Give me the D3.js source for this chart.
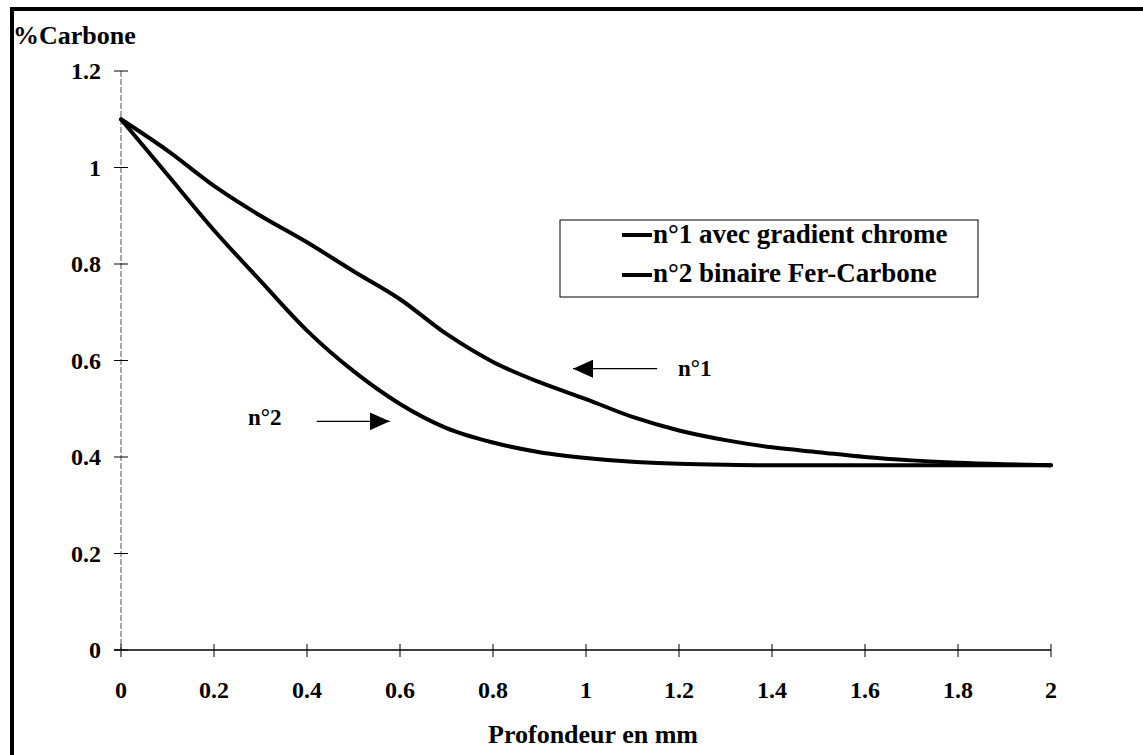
<!DOCTYPE html>
<html>
<head>
<meta charset="utf-8">
<script src="https://cdn.jsdelivr.net/npm/d3@7"></script>
<style>
  body { margin: 0; background: #fff; }
</style>
</head>
<body>
<svg id="chart" width="1143" height="755"></svg>
<script>
// Data
const depth = [0, 0.1, 0.2, 0.3, 0.4, 0.5, 0.6, 0.7, 0.8, 0.9, 1.0, 1.1, 1.2, 1.3, 1.4, 1.5, 1.6, 1.7, 1.8, 1.9, 2.0];
const serie1 = [1.1, 1.035, 0.962, 0.9, 0.845, 0.785, 0.727, 0.655, 0.597, 0.555, 0.52, 0.483, 0.455, 0.435, 0.42, 0.41, 0.4, 0.393, 0.388, 0.385, 0.383];
const serie2 = [1.1, 0.985, 0.87, 0.765, 0.662, 0.578, 0.51, 0.46, 0.43, 0.41, 0.398, 0.39, 0.386, 0.384, 0.383, 0.383, 0.383, 0.383, 0.383, 0.383, 0.383];
const legendLabels = ["n°1 avec gradient chrome", "n°2 binaire Fer-Carbone"];
const xTicks = [0, 0.2, 0.4, 0.6, 0.8, 1, 1.2, 1.4, 1.6, 1.8, 2];
const yTicks = [0, 0.2, 0.4, 0.6, 0.8, 1, 1.2];

const FONT = "'Liberation Serif', 'Times New Roman', 'DejaVu Serif', serif";

const svg = d3.select("#chart")
    .style("font-family", FONT)
    .style("font-weight", "bold");

// scales
const x = d3.scaleLinear().domain([0, 2]).range([121, 1051]);
const y = d3.scaleLinear().domain([0, 1.2]).range([650, 71]);

// outer frame (only top and left visible)
svg.append("path")
    .attr("d", "M12,755 L12,9 L1143,9")
    .attr("fill", "none")
    .attr("stroke", "#000")
    .attr("stroke-width", 4);

// y axis
svg.append("line")
    .attr("x1", x(0)).attr("x2", x(0))
    .attr("y1", y(1.2)).attr("y2", y(0))
    .attr("stroke", "#555")
    .attr("stroke-width", 1)
    .attr("stroke-dasharray", "6,2");

svg.append("g").selectAll("line")
    .data(yTicks)
    .enter().append("line")
    .attr("x1", x(0) - 7).attr("x2", x(0) + 7)
    .attr("y1", d => y(d)).attr("y2", d => y(d))
    .attr("stroke", "#000");

svg.append("g").selectAll("text")
    .data(yTicks)
    .enter().append("text")
    .attr("x", 101)
    .attr("y", d => y(d) + 8)
    .attr("text-anchor", "end")
    .style("font-size", "24px")
    .text(d => d);

// x axis
svg.append("line")
    .attr("x1", x(0) - 7).attr("x2", x(2))
    .attr("y1", y(0)).attr("y2", y(0))
    .attr("stroke", "#000")
    .attr("stroke-width", 1.3);

svg.append("g").selectAll("line")
    .data(xTicks)
    .enter().append("line")
    .attr("x1", d => x(d)).attr("x2", d => x(d))
    .attr("y1", y(0) - 6).attr("y2", y(0) + 7)
    .attr("stroke", "#000");

svg.append("g").selectAll("text")
    .data(xTicks)
    .enter().append("text")
    .attr("x", d => x(d))
    .attr("y", 698)
    .attr("text-anchor", "middle")
    .style("font-size", "24px")
    .text(d => d);

// titles
svg.append("text")
    .attr("x", 13).attr("y", 44)
    .style("font-size", "26px")
    .text("%Carbone");

svg.append("text")
    .attr("x", 593).attr("y", 743)
    .attr("text-anchor", "middle")
    .style("font-size", "26px")
    .text("Profondeur en mm");

// curves
const line = d3.line()
    .x(d => x(d[0]))
    .y(d => y(d[1]))
    .curve(d3.curveMonotoneX);

[serie1, serie2].forEach(s => {
    svg.append("path")
        .datum(depth.map((d, i) => [d, s[i]]))
        .attr("d", line)
        .attr("fill", "none")
        .attr("stroke", "#000")
        .attr("stroke-width", 4)
        .attr("stroke-linejoin", "round")
        .attr("stroke-linecap", "round");
});

// legend
svg.append("rect")
    .attr("x", 560).attr("y", 220)
    .attr("width", 418).attr("height", 77)
    .attr("fill", "#fff")
    .attr("stroke", "#000")
    .attr("stroke-width", 1);

legendLabels.forEach((lab, i) => {
    svg.append("line")
        .attr("x1", 622).attr("x2", 652)
        .attr("y1", 235 + i * 40).attr("y2", 235 + i * 40)
        .attr("stroke", "#000")
        .attr("stroke-width", 4);
    svg.append("text")
        .attr("x", 653).attr("y", 243 + i * 39)
        .style("font-size", "27px")
        .text(lab);
});

// arrow annotations
svg.append("defs").append("marker")
    .attr("id", "head")
    .attr("viewBox", "0 0 10 10")
    .attr("refX", 10).attr("refY", 5)
    .attr("markerWidth", 20).attr("markerHeight", 18)
    .attr("markerUnits", "userSpaceOnUse")
    .attr("preserveAspectRatio", "none")
    .attr("orient", "auto")
    .append("path")
    .attr("d", "M0,0 L10,5 L0,10 Z")
    .attr("fill", "#000");

const arrows = [
    { from: [1.153, 0.583], to: [0.972, 0.583], label: "n°1", lx: 1.198, ly: 376 },
    { from: [0.421, 0.474], to: [0.578, 0.474], label: "n°2", lx: 0.273, ly: 425 }
];
arrows.forEach(a => {
    svg.append("line")
        .attr("x1", x(a.from[0])).attr("y1", y(a.from[1]))
        .attr("x2", x(a.to[0])).attr("y2", y(a.to[1]))
        .attr("stroke", "#000")
        .attr("stroke-width", 1.3)
        .attr("marker-end", "url(#head)");
    svg.append("text")
        .attr("x", x(a.lx)).attr("y", a.ly)
        .style("font-size", "23px")
        .text(a.label);
});
</script>
</body>
</html>
